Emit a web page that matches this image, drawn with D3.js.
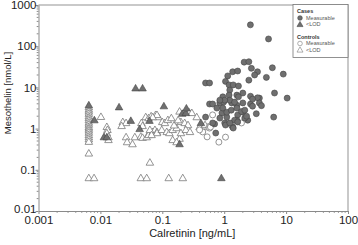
<!DOCTYPE html>
<html>
<head>
<meta charset="utf-8">
<script src="https://cdn.jsdelivr.net/npm/d3@7"></script>
<style>
  body { margin: 0; background: #fff; }
  svg { display: block; font-family: "Liberation Sans", Arial, sans-serif; }
</style>
</head>
<body>
<script>
// cases, measurable  [calretinin, mesothelin]
const casesMeasurable = [
  [2.65, 330], [5.2, 150], [2.1, 41], [2.5, 42], [6.0, 30], [9.0, 21], [2.75, 29], [3.45, 24],
  [3.1, 20], [1.14, 19], [1.37, 24], [1.65, 25], [2.5, 15], [4.8, 17.5], [0.5, 12.8], [0.58, 12.8],
  [1.05, 14], [1.2, 11.5], [1.4, 11.5], [1.7, 10.8], [1.23, 8.6], [2.0, 7.3], [1.6, 6.5], [1.7, 5.9],
  [0.95, 5.9], [6.5, 7.3], [10.4, 5.5], [3.7, 5.5], [1.2, 6.5], [2.66, 6.1], [3.45, 5.6], [0.58, 3.95],
  [0.65, 3.95], [0.85, 4.2], [0.98, 4.4], [1.32, 4.2], [1.6, 3.7], [2.0, 4.2], [2.66, 3.95], [2.87, 3.5],
  [3.7, 4.2], [4.0, 3.6], [0.5, 1.9], [0.76, 3.15], [0.92, 2.4], [1.1, 1.9], [0.85, 1.8], [1.65, 2.15],
  [2.0, 2.5], [2.4, 1.6], [3.3, 2.3], [6.3, 1.9], [0.7, 1.3], [1.02, 1.37], [1.05, 1.22], [1.6, 1.6],
  [2.15, 1.8], [2.3, 2.0], [1.37, 1.09], [0.73, 0.78], [0.95, 3.15], [1.1, 2.5], [1.3, 2.8], [1.6, 3.15],
  [1.9, 2.6], [2.15, 2.8], [1.47, 1.6], [1.65, 1.45], [1.23, 1.37], [1.4, 1.03], [1.23, 4.9], [1.47, 4.4],
  [1.02, 4.9], [0.85, 4.9], [2.87, 5.2], [0.65, 1.37]
];
// cases, below limit of detection
const casesLOD = [
  [0.0065, 3.7], [0.008, 1.6], [0.0114, 0.62], [0.0127, 0.62], [0.02, 3.3], [0.031, 1.55],
  [0.037, 9.5], [0.048, 9.5], [0.043, 0.98], [0.062, 1.55], [0.106, 3.5], [0.21, 2.3],
  [0.24, 2.4], [0.245, 3.1], [0.19, 0.42], [0.42, 1.37], [0.9, 0.063]
];
// controls, measurable
const controlsMeasurable = [
  [0.65, 2.15], [0.45, 0.83], [0.53, 0.63], [0.58, 1.03], [0.4, 0.93], [0.82, 0.47],
  [1.05, 0.62], [1.12, 1.37], [1.3, 1.22], [1.9, 1.37], [0.6, 1.09]
];
// controls, below limit of detection
const controlsLOD = [
  [0.0065, 3.3], [0.0065, 2.9], [0.0065, 2.6], [0.0065, 2.3], [0.0065, 2.0], [0.0065, 1.8],
  [0.0065, 1.6], [0.0065, 1.4], [0.0065, 1.25], [0.0065, 1.1], [0.0065, 1.0], [0.0065, 0.9],
  [0.0065, 0.8], [0.0065, 0.7], [0.0065, 0.62], [0.0065, 0.55], [0.0065, 0.48], [0.0065, 0.25],
  [0.0065, 0.063], [0.0079, 0.063], [0.0102, 1.93], [0.0127, 1.1], [0.013, 0.93], [0.0127, 0.78],
  [0.0135, 0.62], [0.0135, 0.53], [0.023, 1.45], [0.026, 1.37], [0.022, 1.16], [0.026, 0.62],
  [0.027, 0.47], [0.033, 0.42], [0.036, 0.62], [0.046, 1.37], [0.048, 1.16], [0.054, 1.9],
  [0.06, 1.8], [0.066, 2.0], [0.078, 2.15], [0.086, 1.9], [0.045, 0.64], [0.048, 0.6],
  [0.056, 0.62], [0.06, 0.7], [0.07, 0.83], [0.076, 0.93], [0.082, 0.83], [0.063, 0.15],
  [0.045, 0.063], [0.056, 0.063], [0.127, 0.063], [0.214, 0.063], [0.082, 2.15], [0.063, 0.93],
  [0.082, 0.78], [0.067, 0.7], [0.1, 1.45], [0.11, 1.37], [0.123, 1.62], [0.14, 1.8],
  [0.098, 0.93], [0.118, 0.83], [0.13, 0.78], [0.147, 0.93], [0.17, 1.03], [0.147, 0.53],
  [0.19, 0.57], [0.17, 0.47], [0.2, 1.45], [0.23, 1.37], [0.26, 1.22], [0.19, 2.6],
  [0.27, 2.5], [0.3, 2.4], [0.36, 1.9], [0.4, 1.09], [0.49, 1.22], [0.55, 1.09],
  [0.2, 0.78], [0.24, 0.93], [0.28, 0.83], [0.07, 1.9], [0.155, 1.2], [0.18, 1.6]
];
const xTicks = [0.001, 0.01, 0.1, 1, 10, 100];
const yTicks = [0.01, 0.1, 1, 10, 100, 1000];
const legendGroups = [
  { title: "Cases", items: [["circle", "filled", "Measurable"], ["triangle", "filled", "<LOD"]] },
  { title: "Controls", items: [["circle", "open", "Measurable"], ["triangle", "open", "<LOD"]] }
];

const width = 358, height = 245;
const marginLeft = 38.5, marginRight = 10, marginTop = 5, marginBottom = 34;

const svg = d3.select("body").append("svg")
    .attr("width", width)
    .attr("height", height)
    .attr("viewBox", [0, 0, width, height]);

const x = d3.scaleLog([0.001, 100], [marginLeft, width - marginRight]);
const y = d3.scaleLog([0.01, 1000], [height - marginBottom, marginTop]);

const fillDark = "#6f6f6f", strokeDark = "#444", strokeOpen = "#7a7a7a";
const triPath = s => `M0,${-s * 0.62}L${s * 0.6},${s * 0.42}L${-s * 0.6},${s * 0.42}Z`;

// frame on top and right
svg.append("path")
    .attr("d", `M${x(0.001)},${y(1000)}H${x(100)}V${y(0.01)}`)
    .attr("fill", "none")
    .attr("stroke", "#b8b8b8")
    .attr("stroke-width", 1.5);

// minor ticks
function minors(domain) {
  const out = [];
  for (let e = Math.log10(domain[0]); e < Math.log10(domain[1]); e++)
    for (let k = 2; k < 10; k++) out.push(k * Math.pow(10, e));
  return out;
}

const gx = svg.append("g")
    .attr("transform", `translate(0,${y(0.01)})`)
    .call(d3.axisBottom(x).tickValues(xTicks).tickFormat(d => String(d)).tickSize(3).tickSizeOuter(0))
    .call(g => g.select(".domain").attr("stroke", "#8a8a8a"))
    .call(g => g.selectAll(".tick line").attr("stroke", "#8a8a8a"))
    .call(g => g.selectAll(".tick text").attr("font-size", 11.5).attr("fill", "#222")
        .attr("font-family", "Liberation Sans, Arial, sans-serif").attr("y", 4).attr("dy", "0.75em"));
gx.selectAll(".minor").data(minors([0.001, 100])).join("line")
    .attr("x1", d => x(d)).attr("x2", d => x(d))
    .attr("y1", 0).attr("y2", 1.8)
    .attr("stroke", "#8a8a8a");

const gy = svg.append("g")
    .attr("transform", `translate(${x(0.001)},0)`)
    .call(d3.axisLeft(y).tickValues(yTicks).tickFormat(d => String(d)).tickSize(3).tickSizeOuter(0))
    .call(g => g.select(".domain").attr("stroke", "#8a8a8a"))
    .call(g => g.selectAll(".tick line").attr("stroke", "#8a8a8a"))
    .call(g => g.selectAll(".tick text").attr("font-size", 11.5).attr("fill", "#222")
        .attr("font-family", "Liberation Sans, Arial, sans-serif").attr("x", -2)
        .attr("dy", d => d === 0.01 ? "0.1em" : "0.32em"));
gy.selectAll(".minor").data(minors([0.01, 1000])).join("line")
    .attr("y1", d => y(d)).attr("y2", d => y(d))
    .attr("x1", 0).attr("x2", -1.8)
    .attr("stroke", "#8a8a8a");

// axis titles
svg.append("text")
    .attr("x", (x(0.001) + x(100)) / 2 - 1)
    .attr("y", 237)
    .attr("text-anchor", "middle")
    .attr("font-size", 11)
    .attr("fill", "#222")
    .text("Calretinin [ng/mL]");
svg.append("text")
    .attr("transform", `translate(11,${93}) rotate(-90)`)
    .attr("text-anchor", "middle")
    .attr("font-size", 9.5)
    .attr("fill", "#222")
    .text("Mesothelin [nmol/L]");

// points
const plot = svg.append("g");
plot.append("g").selectAll("path").data(controlsLOD).join("path")
    .attr("transform", d => `translate(${x(d[0])},${y(d[1])})`)
    .attr("d", triPath(6.3))
    .attr("fill", "white").attr("stroke", strokeOpen).attr("stroke-width", 0.8);
plot.append("g").selectAll("circle").data(controlsMeasurable).join("circle")
    .attr("cx", d => x(d[0])).attr("cy", d => y(d[1])).attr("r", 3)
    .attr("fill", "white").attr("stroke", strokeOpen).attr("stroke-width", 0.8);
plot.append("g").selectAll("path").data(casesLOD).join("path")
    .attr("transform", d => `translate(${x(d[0])},${y(d[1])})`)
    .attr("d", triPath(6.3))
    .attr("fill", fillDark).attr("stroke", strokeDark).attr("stroke-width", 0.6);
plot.append("g").selectAll("circle").data(casesMeasurable).join("circle")
    .attr("cx", d => x(d[0])).attr("cy", d => y(d[1])).attr("r", 3)
    .attr("fill", fillDark).attr("stroke", strokeDark).attr("stroke-width", 0.6);

// legend
const lg = svg.append("g").attr("transform", "translate(293,4.5)");
lg.append("rect")
    .attr("width", 55).attr("height", 53)
    .attr("fill", "white").attr("stroke", "#777").attr("stroke-width", 0.8);
let ly = 7;
legendGroups.forEach((grp, gi) => {
  lg.append("text").attr("x", 4).attr("y", ly).attr("dy", "0.35em")
      .attr("font-size", 5.5).attr("font-weight", "bold").attr("fill", "#333").text(grp.title);
  ly += 6.5;
  grp.items.forEach(it => {
    const filled = it[1] === "filled";
    const sym = it[0] === "circle"
      ? lg.append("circle").attr("cx", 7).attr("cy", ly).attr("r", 2.3)
      : lg.append("path").attr("transform", `translate(7,${ly})`).attr("d", triPath(5));
    sym.attr("fill", filled ? fillDark : "white")
       .attr("stroke", filled ? strokeDark : strokeOpen).attr("stroke-width", 0.6);
    lg.append("text").attr("x", 13).attr("y", ly).attr("dy", "0.35em")
        .attr("font-size", 5.5).attr("fill", "#555").text(it[2]);
    ly += 6.5;
  });
  ly += 6;
});
</script>
</body>
</html>
